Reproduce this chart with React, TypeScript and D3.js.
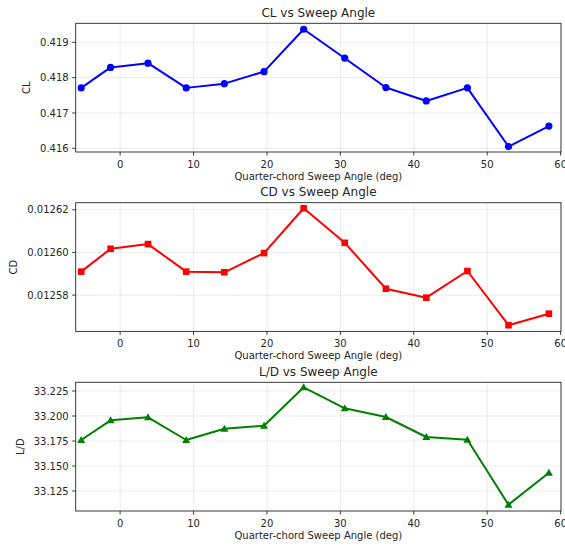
import React from 'react';
import * as d3 from 'd3';

// sweep angles (deg)
const sweep = [-5.3, -1.3, 3.8, 9.0, 14.2, 19.6, 25.0, 30.6, 36.2, 41.7, 47.3, 52.9, 58.4];

const clValues = [0.41771, 0.41829, 0.41841, 0.41771, 0.41783, 0.41817, 0.41937, 0.41855, 0.41772, 0.41734, 0.41771, 0.41605, 0.41663];
const cdValues = [0.012591, 0.0126017, 0.0126039, 0.012591, 0.0125907, 0.0125997, 0.0126207, 0.0126045, 0.012583, 0.0125788, 0.0125913, 0.0125659, 0.0125713];
const ldValues = [33.176, 33.1957, 33.1987, 33.176, 33.1873, 33.1903, 33.2287, 33.2077, 33.199, 33.179, 33.1763, 33.1113, 33.1433];

const xTicks = [0, 10, 20, 30, 40, 50, 60];
const clTicks = [0.416, 0.417, 0.418, 0.419];
const cdTicks = [0.01258, 0.0126, 0.01262];
const ldTicks = [33.125, 33.15, 33.175, 33.2, 33.225];

const panels = [
  { title: 'CL vs Sweep Angle', ylabel: 'CL', values: clValues, ticks: clTicks, fmt: '.3f', domain: [0.415895, 0.419538], color: '#0000ff', marker: 'circle', top: 23.3 },
  { title: 'CD vs Sweep Angle', ylabel: 'CD', values: cdValues, ticks: cdTicks, fmt: '.5f', domain: [0.012563, 0.0126233], color: '#ff0000', marker: 'square', top: 202.7 },
  { title: 'L/D vs Sweep Angle', ylabel: 'L/D', values: ldValues, ticks: ldTicks, fmt: '.3f', domain: [33.105, 33.2337], color: '#008000', marker: 'triangle', top: 382.3 },
];

const W = 565;
const H = 547;
const left = 75.7;
const right = 561;
const plotH = 128.7;
const font = 'DejaVu Sans, sans-serif';
const ink = '#262626';

const x = d3.scaleLinear().domain([-6.05, 60.05]).range([left, right]);

const Panel = ({ p }) => {
  const y = d3.scaleLinear().domain(p.domain).range([p.top + plotH, p.top]);
  const f = d3.format(p.fmt);
  const line = d3.line<number>().x((_, i) => x(sweep[i])).y(d => y(d));
  const maxLen = d3.max(p.ticks, (t: number) => f(t).length) as number;
  const labelW = (maxLen - 1) * 6.36 + 3.18;
  const ylabelX = left - 7 - labelW - 10;
  const bottom = p.top + plotH;

  const marker = (cx: number, cy: number, i: number) => {
    if (p.marker === 'circle') return <circle key={i} cx={cx} cy={cy} r={3.6} fill={p.color} />;
    if (p.marker === 'square') return <rect key={i} x={cx - 3.3} y={cy - 3.3} width={6.6} height={6.6} fill={p.color} />;
    const s = 4;
    return <path key={i} d={`M${cx},${cy - s}L${cx + s},${cy + s * 0.75}L${cx - s},${cy + s * 0.75}Z`} fill={p.color} />;
  };

  return (
    <g>
      {/* grid */}
      {xTicks.map(t => (
        <line key={'gx' + t} x1={x(t)} x2={x(t)} y1={p.top} y2={bottom} stroke="#b0b0b0" strokeOpacity={0.3} strokeWidth={0.8} />
      ))}
      {p.ticks.map(t => (
        <line key={'gy' + t} x1={left} x2={right} y1={y(t)} y2={y(t)} stroke="#b0b0b0" strokeOpacity={0.3} strokeWidth={0.8} />
      ))}
      {/* series */}
      <path d={line(p.values) as string} fill="none" stroke={p.color} strokeWidth={2} strokeLinejoin="round" />
      {p.values.map((v, i) => marker(x(sweep[i]), y(v), i))}
      {/* frame */}
      <rect x={left} y={p.top} width={right - left} height={plotH} fill="none" stroke={ink} strokeWidth={0.9} />
      {/* x ticks */}
      {xTicks.map(t => (
        <g key={'xt' + t}>
          <line x1={x(t)} x2={x(t)} y1={bottom} y2={bottom + 3.5} stroke={ink} strokeWidth={0.9} />
          <text x={x(t)} y={bottom + 15.5} textAnchor="middle" fontSize={10} fontFamily={font} fill={ink}>{t}</text>
        </g>
      ))}
      {/* y ticks */}
      {p.ticks.map(t => (
        <g key={'yt' + t}>
          <line x1={left - 3.5} x2={left} y1={y(t)} y2={y(t)} stroke={ink} strokeWidth={0.9} />
          <text x={left - 7} y={y(t)} dy="0.36em" textAnchor="end" fontSize={10} fontFamily={font} fill={ink}>{f(t)}</text>
        </g>
      ))}
      <text x={(left + right) / 2} y={bottom + 28} textAnchor="middle" fontSize={10} fontFamily={font} fill={ink}>Quarter-chord Sweep Angle (deg)</text>
      <text transform={`translate(${ylabelX},${p.top + plotH / 2}) rotate(-90)`} textAnchor="middle" fontSize={10} fontFamily={font} fill={ink}>{p.ylabel}</text>
      <text x={(left + right) / 2} y={p.top - 6.5} textAnchor="middle" fontSize={12} fontFamily={font} fill={ink}>{p.title}</text>
    </g>
  );
};

export default function App() {
  return (
    <svg width={W} height={H} style={{ position: 'absolute', left: 0, top: 0, background: '#fff' }}>
      {panels.map(p => <Panel key={p.ylabel} p={p} />)}
    </svg>
  );
}
